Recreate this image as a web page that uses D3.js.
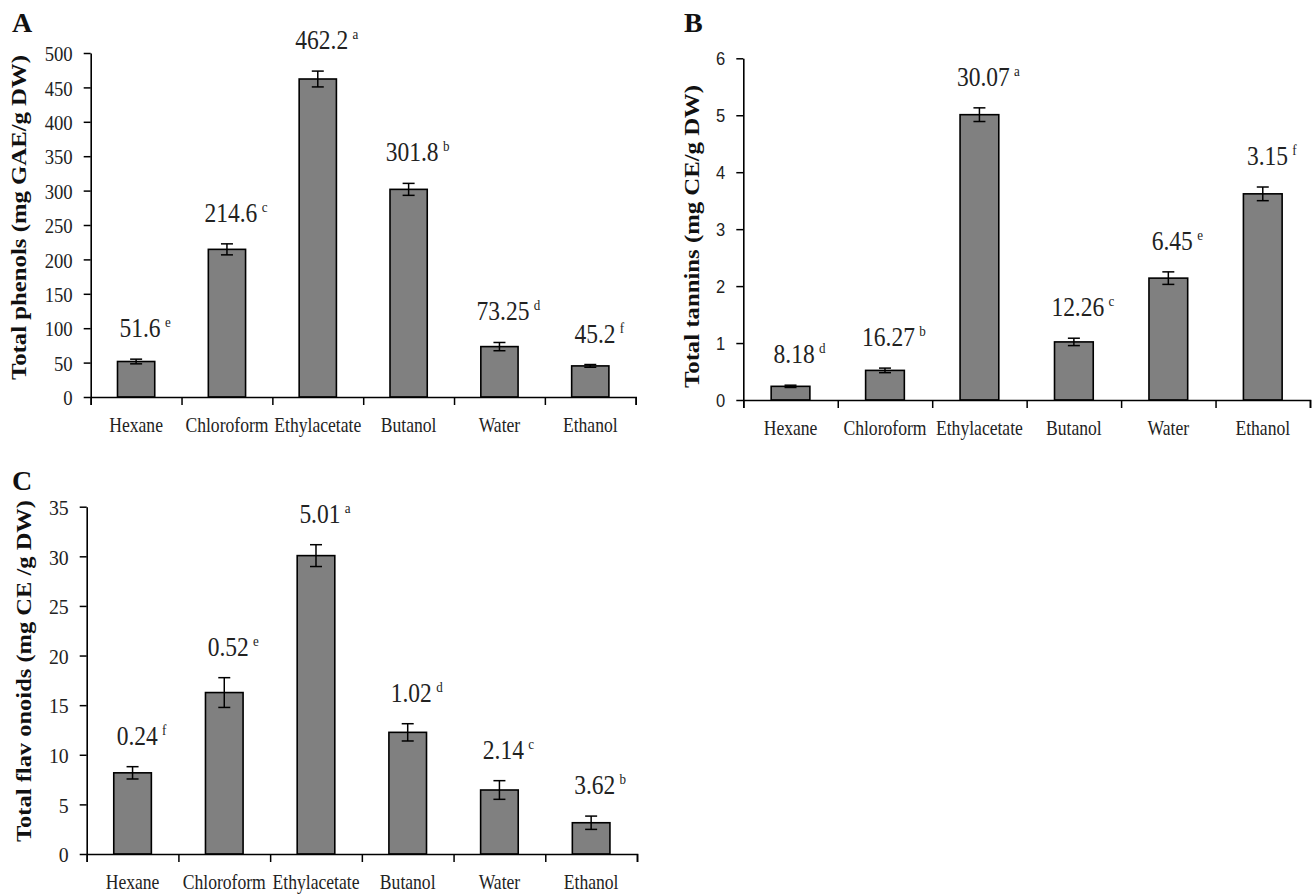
<!DOCTYPE html>
<html><head><meta charset="utf-8">
<script src="https://cdn.jsdelivr.net/npm/d3@7"></script>
<style>body{margin:0;background:#fff}svg{display:block}</style>
</head><body>
<svg id="chart" width="1314" height="894"></svg>
<script>
// ---------- data ----------
const categories = ["Hexane","Chloroform","Ethylacetate","Butanol","Water","Ethanol"];

const phenolsValues  = [51.6, 214.6, 462.2, 301.8, 73.25, 45.2];
const phenolsErrors  = [3.4, 8, 11.5, 8.7, 6, 2];
const phenolsLabels  = ["51.6","214.6","462.2","301.8","73.25","45.2"];
const phenolsLetters = ["e","c","a","b","d","f"];
const phenolsTicks   = [0,50,100,150,200,250,300,350,400,450,500];

const tanninsValues  = [0.24, 0.52, 5.01, 1.02, 2.14, 3.62];
const tanninsErrors  = [0.02, 0.04, 0.12, 0.065, 0.11, 0.12];
const tanninsLabels  = ["8.18","16.27","30.07","12.26","6.45","3.15"];
const tanninsLetters = ["d","b","a","c","e","f"];
const tanninsTicks   = [0,1,2,3,4,5,6];

const flavValues  = [8.18, 16.27, 30.07, 12.26, 6.45, 3.15];
const flavErrors  = [0.62, 1.5, 1.1, 0.87, 0.94, 0.67];
const flavLabels  = ["0.24","0.52","5.01","1.02","2.14","3.62"];
const flavLetters = ["f","e","a","d","c","b"];
const flavTicks   = [0,5,10,15,20,25,30,35];

// ---------- layout ----------
const panels = [
  {letter:"A", values:phenolsValues, errors:phenolsErrors, labels:phenolsLabels, letters:phenolsLetters, ticks:phenolsTicks,
   title:"Total phenols (mg GAE/g DW)", x0:90.7, x1:635.7, yTop:53, yBot:397,
   letterX:12, letterY:32, titleX:26, titleY:217.5, titleLen:325, tickFont:"Liberation Serif", tickSize:22, tickSx:0.85},
  {letter:"B", values:tanninsValues, errors:tanninsErrors, labels:tanninsLabels, letters:tanninsLetters, ticks:tanninsTicks,
   title:"Total tannins (mg CE/g DW)", x0:743.3, x1:1310, yTop:58.3, yBot:400,
   letterX:684, letterY:32, titleX:699, titleY:236.5, titleLen:303, tickFont:"Liberation Sans", tickSize:18, tickSx:0.92},
  {letter:"C", values:flavValues, errors:flavErrors, labels:flavLabels, letters:flavLetters, ticks:flavTicks,
   title:"Total flav onoids (mg CE /g DW)", x0:86.7, x1:637, yTop:506.7, yBot:854,
   letterX:12, letterY:490, titleX:31, titleY:671, titleLen:342, tickFont:"Liberation Serif", tickSize:22, tickSx:0.9}
];

const svg = d3.select("#chart");
const serif = "Liberation Serif, Times New Roman, serif";

panels.forEach(p => {
  const g = svg.append("g");
  const y = d3.scaleLinear().domain([0, d3.max(p.ticks)]).range([p.yBot, p.yTop]);
  const xb = d3.scaleBand().domain(categories).range([p.x0, p.x1]).padding(0);
  const xl = d3.scaleLinear().domain([0, categories.length]).range([p.x0, p.x1]);
  const bw = xb.bandwidth() * 0.41;

  // bars
  g.selectAll("rect.bar").data(categories).join("rect")
    .attr("x", (c) => xb(c) + xb.bandwidth()/2 - bw/2)
    .attr("y", (c,i) => y(p.values[i]))
    .attr("width", bw)
    .attr("height", (c,i) => y(0) - y(p.values[i]))
    .attr("fill", "#808080").attr("stroke", "#000").attr("stroke-width", 1.6);

  // error bars
  const cap = 6;
  categories.forEach((c,i) => {
    const cx = xb(c) + xb.bandwidth()/2;
    const hi = y(p.values[i] + p.errors[i]), lo = y(p.values[i] - p.errors[i]);
    const eg = g.append("g").attr("stroke","#000").attr("stroke-width",1.5);
    eg.append("line").attr("x1",cx).attr("x2",cx).attr("y1",hi).attr("y2",lo);
    eg.append("line").attr("x1",cx-cap).attr("x2",cx+cap).attr("y1",hi).attr("y2",hi);
    eg.append("line").attr("x1",cx-cap).attr("x2",cx+cap).attr("y1",lo).attr("y2",lo);

    // value label
    const t = g.append("text")
      .attr("transform", `translate(${cx + 9},${hi - 22}) scale(0.87,1)`)
      .attr("text-anchor","middle")
      .attr("font-family", serif).attr("font-size", 27).attr("fill","#222");
    t.append("tspan").text(p.labels[i]);
    t.append("tspan").attr("dx", 5).attr("dy", -10).attr("font-size", 15).text(p.letters[i]);
  });

  // y axis
  const ya = g.append("g").attr("transform",`translate(${p.x0},0)`)
    .call(d3.axisLeft(y).tickValues(p.ticks).tickSize(7).tickSizeOuter(0).tickFormat(d3.format("d")));
  ya.select(".domain").attr("stroke","#000").attr("stroke-width",1.6);
  ya.selectAll(".tick line").attr("stroke","#000").attr("stroke-width",1.5);
  ya.selectAll(".tick text").attr("x", null).attr("dy","0.35em")
    .attr("transform", `translate(-18,0) scale(${p.tickSx},1)`)
    .attr("font-family", p.tickFont).attr("font-size", p.tickSize).attr("fill","#222");

  // x axis line + boundary ticks
  const xa = g.append("g").attr("transform",`translate(0,${p.yBot})`)
    .call(d3.axisBottom(xl).ticks(categories.length).tickFormat("").tickSize(8).tickSizeOuter(8));
  xa.select(".domain").attr("stroke","#000").attr("stroke-width",1.6);
  xa.selectAll(".tick line").attr("stroke","#000").attr("stroke-width",1.5);

  // category labels
  const ca = g.append("g").attr("transform",`translate(0,${p.yBot})`)
    .call(d3.axisBottom(xb).tickSize(0));
  ca.select(".domain").remove();
  ca.selectAll(".tick text").attr("y", null).attr("dy", null)
    .attr("transform","translate(0,35) scale(0.8,1)")
    .attr("font-family", serif).attr("font-size", 22).attr("fill","#222");

  // y title
  g.append("text")
    .attr("transform", `translate(${p.titleX},${p.titleY}) scale(0.84,1) rotate(-90)`)
    .attr("text-anchor","middle")
    .attr("textLength", p.titleLen).attr("lengthAdjust","spacingAndGlyphs")
    .attr("font-family", serif).attr("font-weight","bold").attr("font-size", 24).attr("fill","#111")
    .text(p.title);

  // panel letter
  g.append("text").attr("x", p.letterX).attr("y", p.letterY)
    .attr("font-family", serif).attr("font-weight","bold").attr("font-size", 28).attr("fill","#111")
    .text(p.letter);
});
</script>
</body></html>
